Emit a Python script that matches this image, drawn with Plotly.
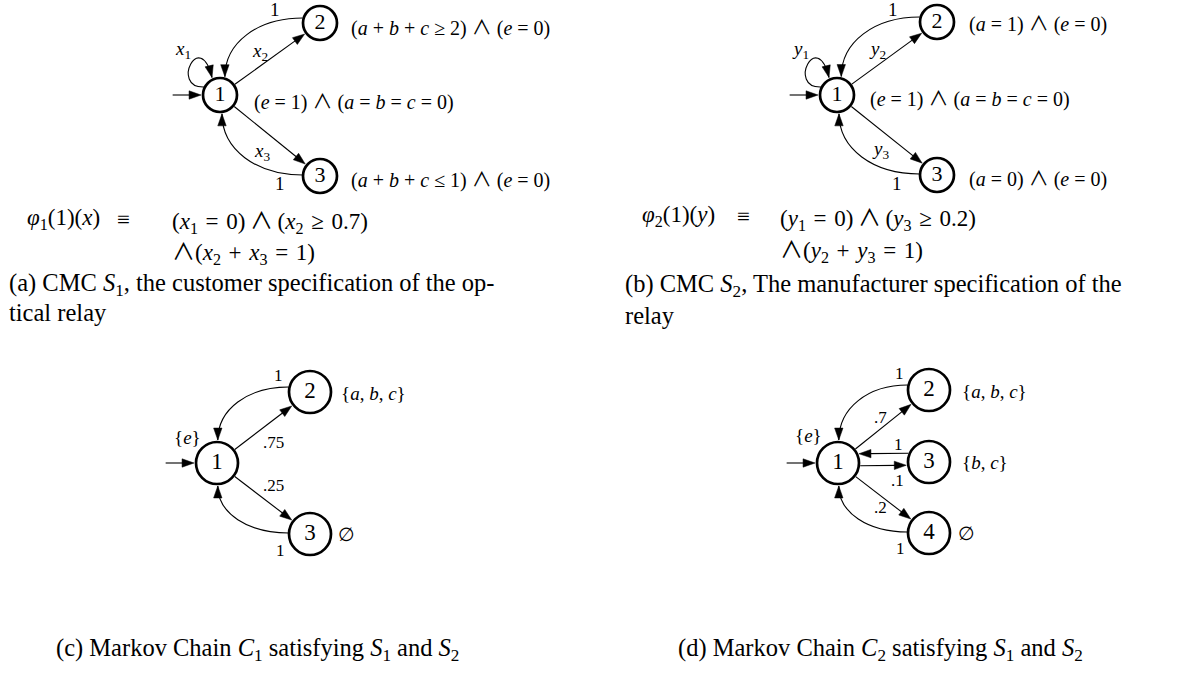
import math
import plotly.graph_objects as go

W, H = 1179, 678
SERIF = "Liberation Serif"
T3 = "\u2004"  # three-per-em space (math spacing)
TH = "\u2009"  # thin space
AND = '<span style="font-family:Noto Sans CJK JP">∧</span>'

# ------------------------------------------------------------------ data
# (a) CMC S1
A_states = ["1", "2", "3"]
A_props = [f"(<i>e</i> = 1) {AND} (<i>a</i> = <i>b</i> = <i>c</i> = 0)",
           f"(<i>a</i> + <i>b</i> + <i>c</i> ≥ 2) {AND} (<i>e</i> = 0)",
           f"(<i>a</i> + <i>b</i> + <i>c</i> ≤ 1) {AND} (<i>e</i> = 0)"]
A_edge_src = [0, 0, 0, 1, 2]
A_edge_dst = [0, 1, 2, 0, 0]
A_edge_lab = ["<i>x</i><sub>1</sub>", "<i>x</i><sub>2</sub>", "<i>x</i><sub>3</sub>", "1", "1"]
A_formula = ["<i>φ</i><sub>1</sub>(1)(<i>x</i>)", "≡",
             f"(<i>x</i><sub>1</sub>{T3}={T3}0){TH}{AND}{TH}(<i>x</i><sub>2</sub>{T3}≥{T3}0.7)",
             f"{AND}(<i>x</i><sub>2</sub>{T3}+{T3}<i>x</i><sub>3</sub>{T3}={T3}1)"]
A_caption = ["(a) CMC <i>S</i><sub>1</sub>, the customer specification of the op-",
             "tical relay"]

# (b) CMC S2
B_states = ["1", "2", "3"]
B_props = [f"(<i>e</i> = 1) {AND} (<i>a</i> = <i>b</i> = <i>c</i> = 0)",
           f"(<i>a</i> = 1) {AND} (<i>e</i> = 0)",
           f"(<i>a</i> = 0) {AND} (<i>e</i> = 0)"]
B_edge_src = [0, 0, 0, 1, 2]
B_edge_dst = [0, 1, 2, 0, 0]
B_edge_lab = ["<i>y</i><sub>1</sub>", "<i>y</i><sub>2</sub>", "<i>y</i><sub>3</sub>", "1", "1"]
B_formula = ["<i>φ</i><sub>2</sub>(1)(<i>y</i>)", "≡",
             f"(<i>y</i><sub>1</sub>{T3}={T3}0){TH}{AND}{TH}(<i>y</i><sub>3</sub>{T3}≥{T3}0.2)",
             f"{AND}(<i>y</i><sub>2</sub>{T3}+{T3}<i>y</i><sub>3</sub>{T3}={T3}1)"]
B_caption = ["(b) CMC <i>S</i><sub>2</sub>, The manufacturer specification of the",
             "relay"]

# (c) Markov chain C1
C_states = ["1", "2", "3"]
C_props = ["{<i>e</i>}", "{<i>a</i>, <i>b</i>, <i>c</i>}", "∅"]
C_edge_src = [0, 0, 1, 2]
C_edge_dst = [1, 2, 0, 0]
C_edge_lab = [".75", ".25", "1", "1"]
C_caption = "(c) Markov Chain <i>C</i><sub>1</sub> satisfying <i>S</i><sub>1</sub> and <i>S</i><sub>2</sub>"

# (d) Markov chain C2
D_states = ["1", "2", "3", "4"]
D_props = ["{<i>e</i>}", "{<i>a</i>, <i>b</i>, <i>c</i>}", "{<i>b</i>, <i>c</i>}", "∅"]
D_edge_src = [0, 0, 2, 0, 1, 3]
D_edge_dst = [1, 2, 0, 3, 0, 0]
D_edge_lab = [".7", ".1", "1", ".2", "1", "1"]
D_caption = "(d) Markov Chain <i>C</i><sub>2</sub> satisfying <i>S</i><sub>1</sub> and <i>S</i><sub>2</sub>"

# ------------------------------------------------------------------ layout (positions / sizes)
A_node_x, A_node_y = [220, 320, 320], [95, 23, 176]
A_lab_x, A_lab_y = [183, 260, 262, 275, 280], [50, 52, 152, 9, 183]
A_prop_x, A_prop_y = [252, 349, 349], [100, 26, 178]
A_form_x, A_form_y = [25, 123, 170, 170], [219, 219, 219, 250]
A_cap_x, A_cap_y = 7, [284, 312]

B_node_x, B_node_y = [837, 937, 937], [95, 22, 175]
B_lab_x, B_lab_y = [800, 877, 880, 893, 897], [50, 50, 150, 9, 183]
B_prop_x, B_prop_y = [868, 967, 967], [97, 22, 177]
B_form_x, B_form_y = [640, 743, 778, 778], [216, 216, 216, 248]
B_cap_x, B_cap_y = 623, [285, 315]

C_node_x, C_node_y = [217, 310, 310], [463, 392, 534]
C_lab_x, C_lab_y = [273, 273, 278, 280], [442, 485, 375, 550]
C_prop_x, C_prop_y = [187, 339, 346], [437, 393, 534]
C_prop_anchor = ["center", "left", "center"]
C_cap_x, C_cap_y = 54, 649

D_node_x, D_node_y = [838, 929, 929, 929], [463, 390, 462, 533]
D_lab_x, D_lab_y = [880, 897, 898, 880, 899, 900], [417, 480, 444, 507, 373, 548]
D_edge_off = [0, 3, 9, 0, 0, 0]
D_edge_kind = ["s", "s", "s", "s", "r", "r"]
D_prop_x, D_prop_y = [808, 960, 960, 966], [435, 391, 462, 533]
D_prop_anchor = ["center", "left", "left", "center"]
D_cap_x, D_cap_y = 676, 649

CAP_FS = 24.5
PROP_FS = 20

shapes, annots, traces = [], [], []
GAP = 0.6
HEAD_L, HEAD_W = 12.0, 4.2
LW = 1.1


def unit(dx, dy):
    length = math.hypot(dx, dy)
    return dx / length, dy / length


def head(tip, d):
    n = (-d[1], d[0])
    bx, by = tip[0] - HEAD_L * d[0], tip[1] - HEAD_L * d[1]
    path = (f"M{tip[0]:.2f},{tip[1]:.2f} L{bx + HEAD_W * n[0]:.2f},{by + HEAD_W * n[1]:.2f} "
            f"L{bx - HEAD_W * n[0]:.2f},{by - HEAD_W * n[1]:.2f} Z")
    shapes.append(dict(type="path", path=path, xref="x", yref="y", layer="below",
                       fillcolor="black", line=dict(color="black", width=0.5)))


def arrow(p, tip):
    d = unit(tip[0] - p[0], tip[1] - p[1])
    base = (tip[0] - (HEAD_L - 2) * d[0], tip[1] - (HEAD_L - 2) * d[1])
    shapes.append(dict(type="line", x0=p[0], y0=p[1], x1=base[0], y1=base[1], xref="x", yref="y",
                       layer="below", line=dict(color="black", width=LW)))
    head(tip, d)


def bezier(p0, p1, p2, tip):
    path = (f"M{p0[0]:.2f},{p0[1]:.2f} C{p1[0]:.2f},{p1[1]:.2f} "
            f"{p2[0]:.2f},{p2[1]:.2f} {tip[0]:.2f},{tip[1]:.2f}")
    shapes.append(dict(type="path", path=path, xref="x", yref="y", layer="below",
                       fillcolor="rgba(0,0,0,0)", line=dict(color="black", width=LW)))
    head(tip, unit(tip[0] - p2[0], tip[1] - p2[1]))


def straight(p, q, r, off=0.0):
    d = unit(q[0] - p[0], q[1] - p[1])
    n = (-d[1], d[0])
    a = math.sqrt(max(r * r - off * off, 0))
    start = (p[0] + d[0] * a + n[0] * off, p[1] + d[1] * a + n[1] * off)
    tip = (q[0] - d[0] * (a + GAP) + n[0] * off, q[1] - d[1] * (a + GAP) + n[1] * off)
    arrow(start, tip)


def ret_curve(src, c0, r, theta_top, theta_bot, k=0.58):
    upper = src[1] < c0[1]
    p0 = (src[0] - (r - 1), src[1] + (-5 if upper else -1))
    th = math.radians(theta_top if upper else theta_bot)
    sgn = -1 if upper else 1
    tip = (c0[0] + (r + GAP) * math.sin(th), c0[1] + sgn * (r + GAP) * math.cos(th))
    p1 = (p0[0] - k * (p0[0] - tip[0]), p0[1])
    p2 = (tip[0], tip[1] + k * (p0[1] - tip[1]))
    bezier(p0, p1, p2, tip)


def loop(c0):
    bezier((c0[0] - 16, c0[1] - 8), (c0[0] - 50, c0[1] - 7),
           (c0[0] - 20, c0[1] - 67), (c0[0] - 8, c0[1] - 17.5))


def init_arrow(c0, r):
    arrow((c0[0] - r - 29, c0[1]), (c0[0] - r - GAP, c0[1]))


def text(x, y, s, size, anchor="center"):
    annots.append(dict(x=x, y=y, xref="x", yref="y", text=s, showarrow=False,
                       xanchor=anchor, yanchor="middle",
                       font=dict(family=SERIF, size=size, color="black")))


def nodes(xs, ys, labels, size, fs):
    traces.append(go.Scatter(x=xs, y=ys, mode="markers+text", text=labels,
                             textposition="middle center",
                             textfont=dict(family=SERIF, size=fs, color="black"),
                             marker=dict(size=size, color="white", symbol="circle",
                                         line=dict(color="black", width=2.7)),
                             hoverinfo="skip", showlegend=False))


# ---------------------------------------------------------- panels (a), (b)
def cmc_panel(nx, ny, src, dst, labs, lx, ly, props, px, py, form, fx, fy, cap, cx, cy,
              states, th_top, th_bot):
    size = 34
    r = size / 2 + 1.35
    pts = list(zip(nx, ny))
    init_arrow(pts[0], r)
    for s, d in zip(src, dst):
        if s == d:
            loop(pts[s])
        elif s == 0:
            straight(pts[s], pts[d], r)
        else:
            ret_curve(pts[s], pts[d], r, th_top, th_bot)
    for x, y, s in zip(lx, ly, labs):
        text(x, y, s, 19)
    for x, y, s in zip(px, py, props):
        text(x, y, s, PROP_FS, "left")
    text(fx[0], fy[0], form[0], 23, "left")
    text(fx[1], fy[1], form[1], 23, "center")
    text(fx[2], fy[2], form[2], 23, "left")
    text(fx[3], fy[3], form[3], 23, "left")
    for y, s in zip(cy, cap):
        text(cx, y, s, CAP_FS, "left")
    nodes(nx, ny, states, size, 22)


cmc_panel(A_node_x, A_node_y, A_edge_src, A_edge_dst, A_edge_lab, A_lab_x, A_lab_y,
          A_props, A_prop_x, A_prop_y, A_formula, A_form_x, A_form_y,
          A_caption, A_cap_x, A_cap_y, A_states, 15, 6)
cmc_panel(B_node_x, B_node_y, B_edge_src, B_edge_dst, B_edge_lab, B_lab_x, B_lab_y,
          B_props, B_prop_x, B_prop_y, B_formula, B_form_x, B_form_y,
          B_caption, B_cap_x, B_cap_y, B_states, 13, 6)


# ---------------------------------------------------------- panels (c), (d)
def mc_panel(nx, ny, src, dst, labs, lx, ly, kinds, offs, props, px, py, panchor,
             cap, cx, cy, states):
    size = 42
    r = size / 2 + 1.35
    pts = list(zip(nx, ny))
    init_arrow(pts[0], r)
    for s, d, k, o in zip(src, dst, kinds, offs):
        if k == "s":
            straight(pts[s], pts[d], r, o)
        else:
            ret_curve(pts[s], pts[d], r, 2, 2)
    for x, y, s in zip(lx, ly, labs):
        text(x, y, s, 17)
    for x, y, s, a in zip(px, py, props, panchor):
        text(x, y, s, 19, a)
    text(cx, cy, cap, CAP_FS, "left")
    nodes(nx, ny, states, size, 23)


mc_panel(C_node_x, C_node_y, C_edge_src, C_edge_dst, C_edge_lab, C_lab_x, C_lab_y,
         ["s", "s", "r", "r"], [0, 0, 0, 0], C_props, C_prop_x, C_prop_y, C_prop_anchor,
         C_caption, C_cap_x, C_cap_y, C_states)
mc_panel(D_node_x, D_node_y, D_edge_src, D_edge_dst, D_edge_lab, D_lab_x, D_lab_y,
         D_edge_kind, D_edge_off, D_props, D_prop_x, D_prop_y, D_prop_anchor,
         D_caption, D_cap_x, D_cap_y, D_states)

fig = go.Figure(data=traces)
fig.update_layout(
    width=W, height=H, margin=dict(l=0, r=0, t=0, b=0),
    paper_bgcolor="white", plot_bgcolor="white", showlegend=False,
    xaxis=dict(range=[0, W], visible=False, fixedrange=True),
    yaxis=dict(range=[H, 0], visible=False, fixedrange=True),
    shapes=shapes, annotations=annots,
)
fig.write_html("out.html", config={"displayModeBar": False},
               post_script="document.body.style.margin='0px';document.body.style.overflow='hidden';")
